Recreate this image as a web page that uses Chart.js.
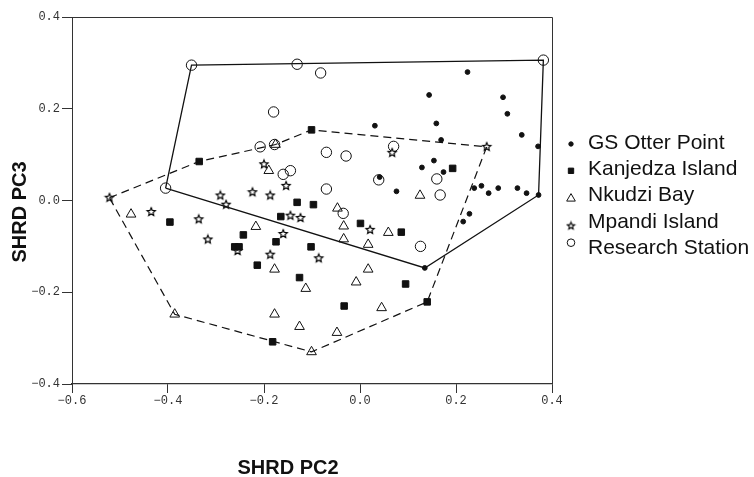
<!DOCTYPE html>
<html>
<head>
<meta charset="utf-8">
<script src="https://cdn.jsdelivr.net/npm/chart.js@4"></script>
<style>
  html, body { margin: 0; padding: 0; background: #fff; }
  #wrap { width: 754px; height: 477px; position: relative; }
</style>
</head>
<body>
<div id="wrap"><canvas id="chart"></canvas></div>
<script>
// PC2 / PC3 scores, [x, y]
const gsOtterPoint = [
  [0.224, 0.280], [0.144, 0.230], [0.298, 0.225], [0.307, 0.189], [0.159, 0.168],
  [0.031, 0.163], [0.337, 0.143], [0.169, 0.132], [0.371, 0.118], [0.154, 0.087],
  [0.129, 0.072], [0.174, 0.062], [0.041, 0.051], [0.076, 0.020], [0.238, 0.027],
  [0.253, 0.032], [0.268, 0.016], [0.288, 0.027], [0.328, 0.027], [0.347, 0.016],
  [0.372, 0.012], [0.215, -0.046], [0.228, -0.029], [0.135, -0.147]
];
const kanjedzaIsland = [
  [-0.335, 0.085], [-0.101, 0.154], [0.193, 0.070], [-0.396, -0.047], [-0.243, -0.075],
  [-0.261, -0.101], [-0.252, -0.101], [-0.214, -0.141], [-0.131, -0.004], [-0.097, -0.009],
  [-0.165, -0.035], [0.001, -0.050], [0.086, -0.069], [-0.175, -0.090], [-0.102, -0.101],
  [-0.126, -0.168], [0.095, -0.182], [-0.033, -0.230], [-0.182, -0.308], [0.140, -0.221]
];
const nkudziBay = [
  [-0.477, -0.030], [-0.386, -0.248], [-0.217, -0.057], [-0.190, 0.065], [-0.176, 0.122],
  [0.125, 0.011], [-0.047, -0.017], [-0.034, -0.056], [0.059, -0.070], [-0.034, -0.084],
  [0.017, -0.096], [-0.178, -0.150], [0.017, -0.150], [-0.008, -0.178], [-0.113, -0.192],
  [-0.178, -0.248], [0.045, -0.234], [-0.126, -0.275], [-0.048, -0.288], [-0.101, -0.330]
];
const mpandiIsland = [
  [-0.522, 0.006], [-0.435, -0.025], [-0.336, -0.041], [-0.317, -0.085], [-0.291, 0.011],
  [-0.279, -0.009], [-0.224, 0.018], [-0.255, -0.110], [-0.200, 0.079], [-0.187, 0.011],
  [-0.154, 0.032], [0.067, 0.104], [0.264, 0.117], [-0.145, -0.033], [-0.124, -0.038],
  [-0.160, -0.073], [-0.187, -0.118], [-0.086, -0.126], [0.021, -0.064]
];
const researchStation = [
  [-0.405, 0.027], [-0.351, 0.295], [-0.131, 0.297], [-0.082, 0.278], [-0.180, 0.193],
  [-0.208, 0.117], [-0.178, 0.122], [-0.070, 0.105], [-0.029, 0.097], [0.070, 0.118],
  [-0.160, 0.057], [-0.145, 0.065], [-0.070, 0.025], [0.039, 0.045], [0.160, 0.047],
  [0.167, 0.012], [-0.035, -0.028], [0.126, -0.100], [0.382, 0.306]
];
// hull outlines (closed)
const hullSolid = [
  [-0.405, 0.027], [-0.351, 0.295], [0.382, 0.306], [0.372, 0.012], [0.135, -0.147], [-0.405, 0.027]
];
const hullDashed = [
  [-0.522, 0.006], [-0.335, 0.085], [-0.176, 0.122], [-0.101, 0.154], [0.264, 0.117],
  [0.140, -0.221], [-0.101, -0.330], [-0.386, -0.248], [-0.522, 0.006]
];
const xTicks = [-0.6, -0.4, -0.2, 0.0, 0.2, 0.4];
const yTicks = [-0.4, -0.2, 0.0, 0.2, 0.4];

const toXY = (arr) => arr.map(([x, y]) => ({ x, y }));

function starImage(outer, inner, lw) {
  const s = Math.ceil(outer * 2 + 3);
  const c = document.createElement('canvas');
  c.width = s;
  c.height = s;
  const g = c.getContext('2d');
  g.translate(s / 2, s / 2);
  g.beginPath();
  for (let i = 0; i < 10; i++) {
    const r = i % 2 === 0 ? outer : inner;
    const a = -Math.PI / 2 + i * Math.PI / 5;
    if (i === 0) g.moveTo(r * Math.cos(a), r * Math.sin(a));
    else g.lineTo(r * Math.cos(a), r * Math.sin(a));
  }
  g.closePath();
  g.fillStyle = '#fff';
  g.fill();
  g.lineWidth = lw;
  g.strokeStyle = '#000';
  g.stroke();
  return c;
}
const star = starImage(4.3, 2, 1.2);
const starSmall = starImage(3.8, 1.7, 1.1);

const fmt = (v) => {
  if (Math.abs(v) < 1e-9) return '0.0';
  return (v < 0 ? '\u2212' : '') + Math.abs(v).toFixed(1);
};

const OPEN = 'rgba(0,0,0,0)';
const seriesStyle = [
  { label: 'GS Otter Point', data: gsOtterPoint, pointStyle: 'circle', pointRadius: 2.4, backgroundColor: '#111', legendRadius: 2.2, dy: 1 },
  { label: 'Kanjedza Island', data: kanjedzaIsland, pointStyle: 'rect', pointRadius: 4.6, backgroundColor: '#111', legendRadius: 3.8, dy: 1.5 },
  { label: 'Nkudzi Bay', data: nkudziBay, pointStyle: 'triangle', pointRadius: 5.6, backgroundColor: OPEN, legendRadius: 5, dy: 3 },
  { label: 'Mpandi Island', data: mpandiIsland, pointStyle: star, pointRadius: 4, backgroundColor: OPEN, legendStyle: starSmall, legendRadius: 3.5, dy: 4 },
  { label: 'Research Station', data: researchStation, pointStyle: 'circle', pointRadius: 5.2, backgroundColor: OPEN, legendRadius: 3.8, dy: -5.5 }
];

const datasets = [
  {
    label: 'hullSolid',
    data: toXY(hullSolid),
    showLine: true,
    borderColor: '#111',
    borderWidth: 1.3,
    pointRadius: 0,
    tension: 0,
    fill: false,
  },
  {
    label: 'hullDashed',
    data: toXY(hullDashed),
    showLine: true,
    borderColor: '#111',
    borderWidth: 1.2,
    borderDash: [8, 5],
    pointRadius: 0,
    tension: 0,
    fill: false,
  },
].concat(seriesStyle.map((s) => ({
  label: s.label,
  data: toXY(s.data),
  pointStyle: s.pointStyle,
  pointRadius: s.pointRadius,
  pointBackgroundColor: s.backgroundColor,
  pointBorderColor: '#111',
  pointBorderWidth: 1,
  showLine: false,
})));

// frame, axis titles and legend
const decorations = {
  id: 'decorations',
  afterDraw(chart) {
    const { ctx, chartArea: a } = chart;
    ctx.save();
    ctx.strokeStyle = '#333';
    ctx.lineWidth = 1;
    ctx.beginPath();
    ctx.moveTo(a.left, a.top + 0.5);
    ctx.lineTo(a.right + 0.5, a.top + 0.5);
    ctx.lineTo(a.right + 0.5, a.bottom);
    ctx.stroke();

    ctx.fillStyle = '#111';
    ctx.font = 'bold 20px "Liberation Sans", Arial, sans-serif';
    ctx.textAlign = 'center';
    ctx.textBaseline = 'middle';
    ctx.fillText('SHRD PC2', 288, 468);
    ctx.save();
    ctx.translate(20, 212);
    ctx.rotate(-Math.PI / 2);
    ctx.fillText('SHRD PC3', 0, 0);
    ctx.restore();

    ctx.font = '21px "Liberation Sans", Arial, sans-serif';
    ctx.textAlign = 'left';
    seriesStyle.forEach((s, i) => {
      const y = 143 + i * 26.3;
      ctx.fillStyle = s.backgroundColor;
      ctx.strokeStyle = '#111';
      ctx.lineWidth = 1;
      Chart.helpers.drawPoint(ctx, {
        pointStyle: s.legendStyle || s.pointStyle,
        radius: s.legendRadius,
        borderWidth: 1,
      }, 571, y + s.dy);
      ctx.fillStyle = '#111';
      ctx.fillText(s.label, 588, y);
    });
    ctx.restore();
  },
};

const tickFont = { family: '"Liberation Mono", "DejaVu Sans Mono", monospace', size: 12 };

new Chart(document.getElementById('chart'), {
  type: 'scatter',
  data: { datasets },
  options: {
    responsive: true,
    maintainAspectRatio: false,
    animation: false,
    layout: { padding: { left: 0, right: 202, top: 17, bottom: 0 } },
    scales: {
      x: {
        type: 'linear',
        min: xTicks[0],
        max: xTicks[xTicks.length - 1],
        afterBuildTicks: (scale) => { scale.ticks = xTicks.map((v) => ({ value: v })); },
        afterFit: (scale) => { scale.height = 93; },
        ticks: { callback: fmt, color: '#333', font: tickFont, padding: 1, maxRotation: 0 },
        grid: { drawOnChartArea: false, drawTicks: true, tickLength: 9, color: '#333' },
        border: { display: true, color: '#333', width: 1.2 },
      },
      y: {
        type: 'linear',
        min: yTicks[0],
        max: yTicks[yTicks.length - 1],
        afterBuildTicks: (scale) => { scale.ticks = yTicks.map((v) => ({ value: v })); },
        afterFit: (scale) => { scale.width = 72; },
        ticks: { callback: fmt, color: '#333', font: tickFont, padding: 2 },
        grid: { drawOnChartArea: false, drawTicks: true, tickLength: 10, color: '#333' },
        border: { display: true, color: '#333', width: 1 },
      },
    },
    plugins: {
      legend: { display: false },
      title: { display: false },
      tooltip: { enabled: false },
    },
  },
  plugins: [decorations],
});
</script>
</body>
</html>
